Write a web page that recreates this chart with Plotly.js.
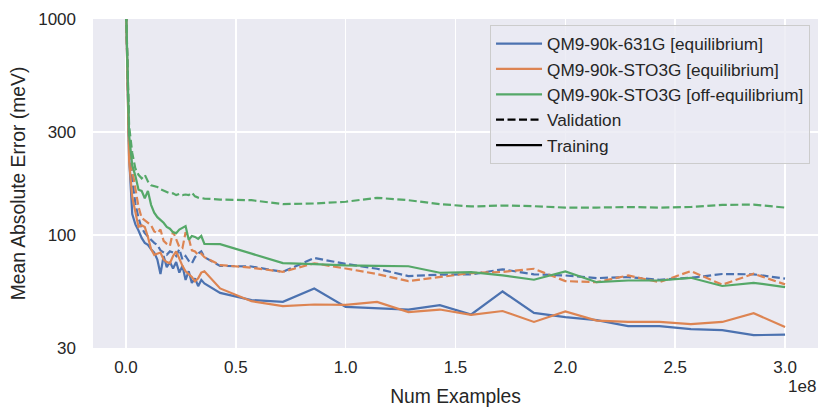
<!DOCTYPE html>
<html>
<head>
<meta charset="utf-8">
<script src="https://cdn.plot.ly/plotly-3.0.1.min.js"></script>
<style>html,body{margin:0;padding:0;background:#fff;}#chart{width:831px;height:418px;}</style>
</head>
<body>
<div id="chart"></div>
<script>
// Shared x positions (number of training examples)
const numExamples = [0, 1.43e6, 2.86e6, 4.29e6, 5.71e6, 7.14e6, 8.57e6, 1.0e7, 1.143e7, 1.286e7,
  1.429e7, 1.571e7, 1.714e7, 1.857e7, 2.0e7, 2.143e7, 2.286e7, 2.429e7, 2.571e7, 2.714e7,
  2.857e7, 3.0e7, 3.143e7, 3.286e7, 3.429e7, 3.571e7,
  4.286e7, 5.714e7, 7.143e7, 8.571e7, 1.0e8, 1.1429e8, 1.2857e8, 1.4286e8, 1.5714e8, 1.7143e8,
  1.8571e8, 2.0e8, 2.1429e8, 2.2857e8, 2.4286e8, 2.5714e8, 2.7143e8, 2.8571e8, 3.0e8];

// QM9-90k-631G [equilibrium]
const val631G = [1200, 260, 180, 140, 120, 108, 102, 98, 95, 92, 90, 85, 83, 81, 84, 83, 80, 86, 77, 80, 76, 74, 79, 82, 84, 79,
  72, 71.5, 67.5, 78.3, 73.5, 69.8, 64.6, 65.5, 65.8, 69.4, 65.8, 65.0, 63.2, 63.9, 62.1, 63.4, 66.0, 65.8, 62.8];
const train631G = [1200, 230, 125, 112, 105, 97, 92, 90, 86, 83, 77, 66, 80, 71, 75, 70, 75, 67, 72, 62, 68, 60, 63, 58, 62, 59.7,
  54, 50, 49.1, 56.6, 46.5, 45.8, 45.2, 47.4, 42.9, 54.8, 43.6, 41.7, 40.4, 37.9, 37.9, 36.7, 36.3, 34.4, 34.6];

// QM9-90k-STO3G [equilibrium]
const valSTO3G = [1200, 280, 200, 160, 135, 120, 117, 113, 111, 104, 102, 106, 94, 91, 89, 104, 96, 88, 87, 103, 97, 85, 84, 81, 82, 79,
  72.6, 70.6, 67.6, 74, 70, 66, 61.2, 63.9, 66.7, 67.5, 69.8, 61.2, 60.5, 65.0, 60.5, 68.1, 58.9, 66.2, 59.1];
const trainSTO3G = [1200, 220, 150, 125, 109, 111, 109, 98, 86, 81, 82, 83, 77, 75, 74, 80, 84, 77, 72, 68, 66, 64, 61, 63, 67, 68,
  56.6, 49.4, 46.9, 47.7, 47.5, 49.0, 44.0, 45.2, 42.7, 44.5, 39.6, 44.3, 40.2, 39.6, 39.6, 38.7, 39.6, 43.5, 37.5];

// QM9-90k-STO3G [off-equilibrium]
const valOffEq = [1200, 320, 240, 203, 190, 183, 190, 177, 170, 168, 167, 163, 161, 158, 156, 156, 153, 155, 153, 154, 153, 157, 151, 149, 148, 147.5,
  146, 145, 139, 140, 142.6, 148.7, 145, 139, 135.6, 137, 136, 134, 134, 134.8, 134, 134.8, 137.8, 138.4, 134];
const trainOffEq = [1200, 290, 210, 188, 162, 160, 148, 160, 138, 127, 121, 118, 114, 109, 107, 103, 102, 106, 108, 110, 95, 99, 98, 96, 99, 91,
  90.8, 82, 74.1, 73.4, 72.3, 72, 71.7, 66.9, 67.4, 65.0, 62.1, 67.9, 60.5, 61.6, 61.6, 63.4, 58.1, 60.1, 57.4];

const seriesNames = ['QM9-90k-631G [equilibrium]', 'QM9-90k-STO3G [equilibrium]', 'QM9-90k-STO3G [off-equilibrium]'];
const styleNames = ['Validation', 'Training'];
const xTickVals = [0, 0.5e8, 1.0e8, 1.5e8, 2.0e8, 2.5e8, 3.0e8];
const xTickText = ['0.0', '0.5', '1.0', '1.5', '2.0', '2.5', '3.0'];
const yTickVals = [30, 100, 300, 1000];
const yTickText = ['30', '100', '300', '1000'];

const colors = ['#4C72B0', '#DD8452', '#55A868'];
const DASH = '8px,3.5px';
const LW = 2.2;
const valData = [val631G, valSTO3G, valOffEq];
const trainData = [train631G, trainSTO3G, trainOffEq];

const traces = [];
for (let i = 0; i < 3; i++) {
  traces.push({x: numExamples, y: valData[i], type: 'scatter', mode: 'lines', showlegend: false,
    line: {color: colors[i], width: LW, dash: DASH}, hoverinfo: 'skip'});
  traces.push({x: numExamples, y: trainData[i], type: 'scatter', mode: 'lines', showlegend: false,
    line: {color: colors[i], width: LW}, hoverinfo: 'skip'});
}
// Legend entries
for (let i = 0; i < 3; i++) {
  traces.push({x: [null], y: [null], type: 'scatter', mode: 'lines', name: seriesNames[i],
    line: {color: colors[i], width: LW}});
}
traces.push({x: [null], y: [null], type: 'scatter', mode: 'lines', name: styleNames[0],
  line: {color: '#000', width: LW, dash: DASH}});
traces.push({x: [null], y: [null], type: 'scatter', mode: 'lines', name: styleNames[1],
  line: {color: '#000', width: LW}});

const FONT = 'Liberation Sans, Arial, Helvetica, sans-serif';
const TXT = '#262626';

const layout = {
  width: 831, height: 418,
  margin: {l: 93, r: 13, t: 19, b: 70},
  paper_bgcolor: '#ffffff',
  plot_bgcolor: '#EAEAF2',
  font: {family: FONT, size: 17, color: TXT},
  showlegend: true,
  legend: {
    x: 0.989, xanchor: 'right', y: 0.982, yanchor: 'top',
    bgcolor: 'rgba(234,234,242,0.8)', bordercolor: '#CCCCCC', borderwidth: 1,
    font: {family: FONT, size: 17.2, color: TXT},
    itemwidth: 46, traceorder: 'normal'
  },
  xaxis: {
    type: 'linear', range: [-0.15e8, 3.15e8],
    tickmode: 'array', tickvals: xTickVals, ticktext: xTickText,
    showgrid: true, gridcolor: '#ffffff', gridwidth: 1.6,
    zeroline: false, showline: false, ticks: '', ticklabelstandoff: 7,
    tickfont: {family: FONT, size: 17, color: TXT},
    title: {text: 'Num Examples', font: {family: FONT, size: 19.3, color: TXT}, standoff: 13}
  },
  yaxis: {
    type: 'log', range: [Math.log10(30), 3],
    tickmode: 'array', tickvals: yTickVals, ticktext: yTickText,
    showgrid: true, gridcolor: '#ffffff', gridwidth: 1.6,
    zeroline: false, showline: false, ticks: '', ticklabelstandoff: 16,
    tickfont: {family: FONT, size: 17, color: TXT},
    title: {text: 'Mean Absolute Error (meV)', font: {family: FONT, size: 19.3, color: TXT}, standoff: 7}
  },
  annotations: [{
    text: '1e8', xref: 'paper', yref: 'paper', x: 1.0, y: -0.118,
    xanchor: 'right', yanchor: 'middle', showarrow: false,
    font: {family: FONT, size: 17, color: TXT}
  }]
};

Plotly.newPlot('chart', traces, layout, {staticPlot: true, displayModeBar: false});
</script>
</body>
</html>
